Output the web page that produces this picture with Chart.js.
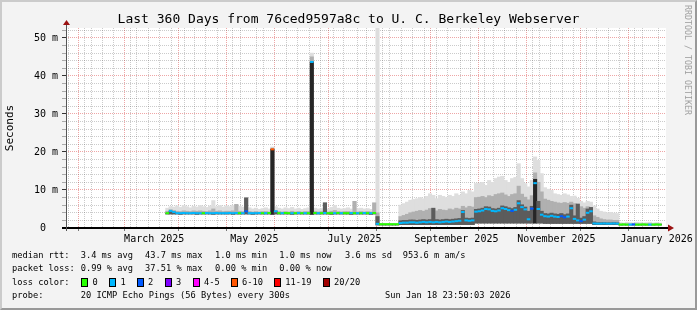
<!DOCTYPE html>
<html>
<head>
<meta charset="utf-8">
<script src="https://cdn.jsdelivr.net/npm/chart.js@4.4.1/dist/chart.umd.min.js"></script>
<style>
    html, body { margin: 0; padding: 0; }
    body {
        width: 697px; height: 310px; position: relative; overflow: hidden;
        background: #f3f3f3; color: #000;
        font-family: "DejaVu Sans Mono", monospace;
    }
    #chart { position: absolute; left: 0; top: 0; }
    #frame {
        position: absolute; left: 0; top: 0; width: 697px; height: 310px;
        box-sizing: border-box; pointer-events: none;
        border-style: solid; border-width: 2px;
        border-color: #cbcbcb #999 #999 #cbcbcb;
    }
    .t { position: absolute; white-space: pre; }
    #title { left: 0; width: 697px; top: 11px; text-align: center; font-size: 13px; line-height: 15px; }
    #ylab { left: -20px; top: 122px; width: 60px; height: 12px; line-height: 12px; font-size: 11px;
            text-align: center; transform: rotate(-90deg); }
    #wm { left: 633px; top: 55px; width: 110px; height: 10px; line-height: 10px; font-size: 8.3px;
          text-align: center; color: #a0a0a0; transform: rotate(90deg); }
    .lg { font-size: 8.7px; line-height: 10px; }
    .sw { position: absolute; width: 5px; height: 7px; border: 1px solid #000; }
</style>
</head>
<body>
<canvas id="chart" width="697" height="310"></canvas>
<div id="title" class="t">Last 360 Days from 76ced9597a8c to U. C. Berkeley Webserver</div>
<div id="ylab" class="t">Seconds</div>
<div id="wm" class="t">RRDTOOL / TOBI OETIKER</div>
<div id="legend"></div>
<div id="frame"></div>
<script>
// time axis: days since the start of the 360 day window
const T0 = Date.UTC(2025, 0, 23, 23, 50, 3);
const DAY = 86400000;
const sampleStart = 59;   // first sample, days into the window
const sampleStep = 2;     // one sample every 2 days

// median rtt per sample (ms)
const median = [
    3.9, 4.5, 4.2, 3.9, 3.9, 3.95, 3.9, 3.9, 3.95, 3.9,
    3.9, 3.9, 3.95, 3.9, 3.9, 3.95, 3.9, 3.9, 3.9, 3.95,
    3.9, 3.95, 3.9, 3.9, 4.4, 3.9, 3.9, 3.9, 3.95, 3.9,
    3.9, 3.95, 20.7, 4.4, 3.9, 3.9, 3.95, 3.9, 3.9, 3.9,
    3.95, 3.9, 3.9, 3.9, 43.7, 3.95, 3.9, 3.9, 3.95, 3.9,
    3.9, 3.9, 3.95, 3.9, 3.9, 3.9, 3.95, 3.9, 3.9, 3.9,
    3.95, 3.9, 3.9, 3.95,
    1.1, 1.0, 1.0, 1.0, 1.0, 1.0, 1.0,
    1.3, 1.4, 1.4, 1.5, 1.5, 1.4, 1.5, 1.6, 1.5, 1.6,
    1.5, 1.6, 1.5, 1.6, 1.7, 1.6, 1.7, 1.8, 1.9, 4.2,
    2.0, 1.9, 2.0,
    4.3, 4.4, 4.6, 5.0, 4.9, 4.5, 4.4, 4.6, 5.2, 5.0,
    4.7, 4.5, 4.8, 6.5, 5.5, 4.9, 2.3, 5.1, 11.8, 5.0, 3.5,
    3.1, 3.0, 3.2, 3.0, 2.9, 3.1, 2.8, 3.0, 5.2, 2.4,
    2.0, 1.8, 2.2, 4.0, 4.4,
    1.2, 1.15, 1.15, 1.2, 1.15, 1.15, 1.2, 1.15,
    0.9, 0.95, 0.9, 0.9, 0.95, 0.9, 0.9, 0.95, 0.9, 0.9, 0.9, 0.95, 0.9
];

// lost pings out of 20 per sample
const loss = [
    0, 1, 1, 1, 1, 1, 1, 1, 1, 1,
    1, 0, 1, 1, 1, 1, 1, 1, 1, 1,
    1, 1, 0, 1, 2, 1, 1, 1, 1, 0,
    1, 0, 7, 1, 0, 1, 0, 0, 1, 0,
    1, 0, 1, 0, 1, 0, 1, 0, 1, 0,
    0, 1, 0, 1, 0, 0, 1, 0, 1, 0,
    1, 0, 1, 0,
    1, 0, 0, 0, 0, 0, 0,
    1, 1, 1, 1, 1, 1, 1, 1, 1, 1,
    1, 1, 1, 1, 1, 1, 1, 1, 1, 1,
    1, 1, 1,
    1, 1, 1, 1, 1, 1, 1, 1, 1, 1,
    1, 2, 1, 1, 1, 1, 1, 2, 1, 1, 1,
    1, 1, 1, 1, 1, 2, 2, 1, 1, 1,
    1, 2, 1, 1, 1,
    1, 1, 1, 1, 1, 1, 1, 1,
    0, 0, 0, 1, 2, 0, 0, 0, 0, 1, 0, 0, 0
];

// smoke: fastest ping, top of dark band, top of mid band, slowest ping (ms)
const smokeLo = [
    3.7, 3.7, 3.7, 3.7, 3.6, 3.7, 3.7, 3.7, 3.7, 3.6,
    3.7, 3.7, 3.7, 3.7, 3.6, 3.7, 3.7, 3.7, 3.7, 3.7,
    3.6, 3.7, 3.7, 3.7, 3.7, 3.7, 3.6, 3.7, 3.7, 3.7,
    3.7, 3.7, 3.6, 3.7, 3.7, 3.7, 3.7, 3.7, 3.6, 3.7,
    3.7, 3.7, 3.7, 3.7, 3.6, 3.7, 3.7, 3.7, 3.7, 3.7,
    3.6, 3.7, 3.7, 3.7, 3.7, 3.7, 3.6, 3.7, 3.7, 3.7,
    3.7, 3.7, 3.6, 3.7,
    0.8, 0.8, 0.8, 0.8, 0.8, 0.8, 0.8,
    0.9, 0.9, 0.9, 0.9, 0.9, 0.9, 0.9, 0.9, 0.9, 0.9,
    0.9, 0.9, 0.9, 0.9, 0.9, 0.9, 0.9, 0.9, 0.9, 0.9,
    0.9, 0.9, 0.9,
    1.3, 1.3, 1.3, 1.3, 1.3, 1.3, 1.3, 1.3, 1.3, 1.3,
    1.3, 1.3, 1.3, 1.3, 1.3, 1.3, 1.3, 1.3, 1.3, 1.3, 1.3,
    1.2, 1.2, 1.2, 1.2, 1.2, 1.2, 1.2, 1.2, 1.2, 1.2,
    1.2, 1.2, 1.2, 1.2, 1.2,
    0.9, 0.9, 0.9, 0.9, 0.9, 0.9, 0.9, 0.9,
    0.8, 0.8, 0.8, 0.8, 0.8, 0.8, 0.8, 0.8, 0.8, 0.8, 0.8, 0.8, 0.8
];
const smokeDark = [
    3.9, 4.4, 4.2, 3.9, 3.9, 3.9, 3.9, 3.9, 3.9, 3.9,
    3.9, 3.9, 3.9, 3.9, 3.9, 3.9, 3.9, 3.9, 3.9, 3.9,
    3.9, 3.9, 3.9, 3.9, 7.9, 3.9, 3.9, 3.9, 3.9, 3.9,
    3.9, 3.9, 20.7, 4.3, 3.9, 3.9, 3.9, 3.9, 3.9, 3.9,
    3.9, 3.9, 3.9, 3.9, 43.7, 3.9, 3.9, 3.9, 6.6, 3.9,
    3.9, 3.9, 3.9, 3.9, 3.9, 3.9, 3.9, 3.9, 3.9, 3.9,
    3.9, 3.9, 3.9, 3.9,
    3.0, 0.95, 0.95, 0.95, 0.95, 0.95, 0.95,
    1.9, 2.0, 2.0, 2.1, 2.1, 2.0, 2.1, 2.2, 2.1, 2.2,
    5.2, 2.2, 2.1, 2.2, 2.3, 2.2, 2.3, 2.4, 2.5, 4.6,
    2.6, 2.5, 2.6,
    4.9, 5.0, 5.2, 5.6, 5.5, 5.1, 5.0, 5.2, 5.8, 5.6,
    5.3, 5.1, 5.4, 7.2, 6.1, 5.5, 4.4, 5.7, 12.8, 7.0, 4.4,
    3.8, 3.7, 3.9, 3.7, 3.6, 3.8, 3.5, 3.7, 6.0, 3.2,
    6.3, 2.6, 3.0, 5.0, 5.4,
    1.6, 1.4, 1.4, 1.4, 1.35, 1.35, 1.4, 1.35,
    0.95, 0.95, 0.95, 0.95, 0.95, 0.95, 0.95, 0.95, 0.95, 0.95, 0.95, 0.95, 0.95
];
const smokeMid = [
    4.4, 4.8, 4.6, 4.4, 4.3, 4.5, 4.4, 4.3, 4.5, 4.4,
    4.5, 4.4, 4.3, 4.5, 5.0, 4.4, 4.5, 4.3, 4.4, 4.4,
    4.5, 6.2, 4.4, 4.3, 7.9, 4.3, 4.2, 4.3, 4.2, 4.3,
    4.3, 4.2, 21.0, 4.6, 4.3, 4.2, 4.3, 4.2, 4.4, 4.2,
    4.3, 4.2, 4.3, 4.3, 45.0, 4.3, 4.2, 4.3, 6.6, 4.2,
    4.4, 4.6, 4.3, 4.2, 4.3, 4.3, 4.2, 7.0, 4.2, 4.3,
    4.2, 4.3, 4.2, 6.6,
    4.0, 1.1, 1.1, 1.1, 1.1, 1.1, 1.1,
    3.0, 3.3, 3.6, 4.0, 4.2, 4.4, 4.6, 4.4, 4.7, 5.1,
    5.0, 4.5, 4.9, 4.7, 4.6, 5.0, 4.8, 5.2, 5.0, 5.7,
    5.3, 5.7, 5.5,
    8.0, 8.1, 8.3, 8.0, 8.5, 8.3, 8.8, 9.0, 9.2, 8.7,
    8.3, 8.8, 9.0, 11.0, 8.9, 8.1, 7.4, 8.5, 14.5, 12.0, 9.5,
    7.6, 7.3, 7.0, 6.8, 6.6, 6.5, 6.7, 6.5, 6.8, 6.4,
    6.2, 5.6, 5.2, 5.6, 5.4,
    3.2, 2.8, 2.4, 2.2, 2.1, 2.1, 2.0, 2.0,
    1.1, 1.1, 1.1, 1.1, 1.1, 1.1, 1.1, 1.1, 1.1, 1.1, 1.1, 1.1, 1.1
];
const smokeHi = [
    5.2, 5.6, 5.5, 5.8, 5.4, 5.9, 5.6, 5.3, 5.7, 5.5,
    5.9, 5.6, 5.4, 5.8, 7.2, 5.6, 5.9, 5.5, 5.8, 5.6,
    5.9, 6.2, 5.7, 5.5, 8.0, 5.3, 5.0, 5.2, 4.9, 5.1,
    5.3, 5.0, 21.3, 5.6, 5.2, 5.0, 5.3, 5.1, 5.4, 5.0,
    5.2, 4.9, 5.1, 5.3, 46.0, 5.2, 5.0, 5.1, 6.6, 5.0,
    5.4, 5.9, 5.2, 5.0, 5.1, 5.3, 5.0, 7.0, 5.1, 5.2,
    5.0, 5.1, 4.9, 6.6,
    60, 1.2, 1.2, 1.2, 1.2, 1.2, 1.2,
    6.0, 6.4, 6.8, 7.3, 7.5, 7.7, 8.0, 7.7, 8.3, 9.0,
    8.6, 7.7, 8.6, 8.3, 8.0, 8.6, 8.3, 9.0, 8.6, 9.5,
    9.0, 9.9, 9.5,
    11.7, 11.8, 12.0, 11.2, 12.5, 12.0, 13.0, 13.4, 13.6, 12.5,
    12.0, 13.0, 13.3, 16.9, 13.0, 11.7, 10.8, 12.5, 18.7, 17.8, 14.3,
    10.6, 10.2, 9.9, 9.0, 8.8, 8.6, 9.0, 8.7, 8.3, 8.4,
    7.8, 7.0, 6.6, 7.0, 6.8,
    5.8, 5.0, 4.4, 4.2, 4.0, 4.1, 3.9, 3.8,
    1.4, 1.3, 1.5, 1.4, 1.3, 1.5, 1.4, 1.3, 1.4, 1.5, 1.3, 1.4, 1.3
];

// loss colour buckets (upper bound of lost pings)
const lossBounds = [0, 1, 2, 3, 5, 10, 19, 20];
const lossNames = ['0', '1', '2', '3', '4-5', '6-10', '11-19', '20/20'];
const lossColors = ['#26ff00', '#00b8ff', '#0059ff', '#7e00ff', '#ff00ff', '#ff5500', '#ff0000', '#a10000'];

// axis labels
const labelMonths = [[2025, 2], [2025, 4], [2025, 6], [2025, 8], [2025, 10], [2026, 0]];
const monthLabels = ['March 2025', 'May 2025', 'July 2025', 'September 2025', 'November 2025', 'January 2026'];
const yMax = 52.63;

const FONT = '"DejaVu Sans Mono", monospace';

function colorForLoss(n) {
    for (let i = 0; i < lossBounds.length; i++) {
        if (n <= lossBounds[i]) return lossColors[i];
    }
    return lossColors[lossColors.length - 1];
}

const dayOf = (y, m, d) => (Date.UTC(y, m, d) - T0) / DAY;
const sampleDays = median.map((_, i) => sampleStart + i * sampleStep);

// x grid: weekly minor lines, monthly major lines, labels mid month
const xTicks = [];
function addTick(v, kind, label) {
    let t = xTicks.find(t => Math.abs(t.value - v) < 1e-6);
    if (!t) { t = {value: v, kind: null, label: ''}; xTicks.push(t); }
    if (kind && t.kind !== 'major') t.kind = kind;
    if (label) t.label = label;
}
for (let d = dayOf(2025, 0, 26); d <= 360; d += 7) addTick(d, 'minor');
for (let m = 1; m <= 12; m++) addTick(dayOf(2025, m, 1), 'major');
labelMonths.forEach(([y, m], i) => addTick(dayOf(y, m, 16), null, monthLabels[i]));
xTicks.sort((a, b) => a.value - b.value);

const yTicks = [];
for (let v = 0; v <= 52; v += 2) yTicks.push(v);

// grid is drawn over the smoke, like rrdtool, so keep it translucent
const MAJOR = 'rgba(205, 0, 0, 0.35)';
const MINOR = 'rgba(70, 70, 70, 0.28)';
const NONE = 'rgba(0, 0, 0, 0)';

const band = (lo, hi) => sampleDays.map((d, i) => ({x: d, y: [lo[i], hi[i]]}));

const frame = {
    id: 'frame',
    beforeDraw(chart) {
        const {ctx, chartArea: a} = chart;
        ctx.save();
        ctx.fillStyle = '#fff';
        ctx.fillRect(a.left, a.top, a.right - a.left, a.bottom - a.top);
        ctx.restore();
    },
    afterDraw(chart) {
        const {ctx, chartArea: a} = chart;
        ctx.save();
        // x axis
        ctx.strokeStyle = '#000';
        ctx.lineWidth = 2;
        ctx.beginPath();
        ctx.moveTo(a.left - 4, a.bottom);
        ctx.lineTo(a.right + 2, a.bottom);
        ctx.stroke();
        // y axis
        ctx.strokeStyle = '#555';
        ctx.lineWidth = 1;
        ctx.beginPath();
        ctx.moveTo(a.left + 0.5, a.bottom + 3);
        ctx.lineTo(a.left + 0.5, a.top - 4);
        ctx.stroke();
        // arrows
        ctx.fillStyle = '#9b1212';
        ctx.beginPath();
        ctx.moveTo(a.left + 0.5, a.top - 8);
        ctx.lineTo(a.left - 3, a.top - 3);
        ctx.lineTo(a.left + 4, a.top - 3);
        ctx.fill();
        ctx.beginPath();
        ctx.moveTo(a.right + 8, a.bottom);
        ctx.lineTo(a.right + 2, a.bottom - 3.5);
        ctx.lineTo(a.right + 2, a.bottom + 3.5);
        ctx.fill();
        ctx.restore();
    }
};

const smokeOpts = { stack: 'smoke', barThickness: 'flex', categoryPercentage: 1, barPercentage: 1,
                    borderWidth: 0, inflateAmount: 0.4 };

// tall dense columns (the big spikes) render nearly black in smokeping
const darkColor = ctx => {
    const i = ctx.dataIndex;
    return smokeDark[i] - smokeLo[i] > 10 ? '#262626' : '#5c5c5c';
};

new Chart(document.getElementById('chart'), {
    type: 'bar',
    data: {
        datasets: [
            {
                type: 'line',
                data: sampleDays.map((d, i) => ({x: d, y: median[i]})),
                showLine: false,
                pointStyle: 'line',
                pointRadius: 1.75,
                pointBorderWidth: 2,
                pointBorderColor: loss.map(colorForLoss),
                order: 0
            },
            { ...smokeOpts, data: band(smokeLo, smokeDark), backgroundColor: darkColor, order: 1 },
            { ...smokeOpts, data: band(smokeLo, smokeMid), backgroundColor: '#b0b0b0', order: 2 },
            { ...smokeOpts, data: band(smokeLo, smokeHi), backgroundColor: '#dedede', order: 3 }
        ]
    },
    options: {
        responsive: false,
        animation: false,
        devicePixelRatio: 1,
        layout: { padding: { left: 0, top: 28, right: 31, bottom: 0 } },
        plugins: { legend: { display: false }, tooltip: { enabled: false } },
        events: [],
        scales: {
            x: {
                type: 'linear',
                position: 'bottom',
                min: 0,
                max: 360,
                z: 1,
                border: { display: false, dash: [1, 1] },
                grid: {
                    color: ctx => {
                        const t = xTicks[ctx.index];
                        return !t || !t.kind ? NONE : (t.kind === 'major' ? MAJOR : MINOR);
                    },
                    tickColor: ctx => {
                        const t = xTicks[ctx.index];
                        return t && t.kind === 'major' ? '#777' : NONE;
                    },
                    tickLength: 3,
                    lineWidth: 1
                },
                ticks: {
                    autoSkip: false, maxRotation: 0, minRotation: 0, padding: 2,
                    color: '#000', font: { family: FONT, size: 10 },
                    callback: (v, i) => xTicks[i] ? xTicks[i].label : ''
                },
                afterBuildTicks: s => { s.ticks = xTicks.map(t => ({value: t.value})); },
                afterFit: s => { s.height = 82; s.paddingLeft = 0; s.paddingRight = 0; }
            },
            y: {
                type: 'linear',
                min: 0,
                max: yMax,
                stacked: false,
                z: 1,
                border: { display: false, dash: [1, 1] },
                grid: {
                    color: ctx => ctx.tick && ctx.tick.value % 10 === 0 ? MAJOR : MINOR,
                    tickColor: ctx => ctx.tick && ctx.tick.value % 10 === 0 ? '#333' : '#aaa',
                    tickLength: 4,
                    lineWidth: 1
                },
                ticks: {
                    autoSkip: false, padding: 4, color: '#000', font: { family: FONT, size: 10 },
                    callback: v => v % 10 !== 0 ? '' : (v === 0 ? '0  ' : v + ' m')
                },
                afterBuildTicks: s => { s.ticks = yTicks.map(v => ({value: v})); },
                afterFit: s => { s.width = 66; s.paddingTop = 0; s.paddingBottom = 0; }
            }
        }
    },
    plugins: [frame]
});

// legend block under the graph, placed like rrdtool does
const legendRows = [
    [249.5, [[12, 'median rtt:'], [80.7, '3.4 ms avg'], [145, '43.7 ms max'], [215, '1.0 ms min'],
             [279.3, '1.0 ms now'], [345, '3.6 ms sd'], [402.7, '953.6 m am/s']]],
    [263, [[12, 'packet loss:'], [80.7, '0.99 % avg'], [145, '37.51 % max'], [215, '0.00 % min'],
           [279.3, '0.00 % now']]],
    [276.8, [[12, 'loss color:']]],
    [290.3, [[12, 'probe:'], [80.7, '20 ICMP Echo Pings (56 Bytes) every 300s'], [385, 'Sun Jan 18 23:50:03 2026']]]
];
const swatchX = [81.3, 109.3, 136.7, 164.7, 192.7, 230.7, 274, 322.7];
const legend = document.getElementById('legend');
let html = '';
legendRows.forEach(([top, items]) => {
    items.forEach(([x, txt]) => {
        html += `<div class="t lg" style="left:${x}px;top:${top}px">${txt}</div>`;
    });
});
lossNames.forEach((name, i) => {
    html += `<div class="sw" style="left:${swatchX[i]}px;top:277.7px;background:${lossColors[i]}"></div>`;
    html += `<div class="t lg" style="left:${swatchX[i] + 11.3}px;top:276.8px">${name}</div>`;
});
legend.innerHTML = html;
</script>
</body>
</html>
